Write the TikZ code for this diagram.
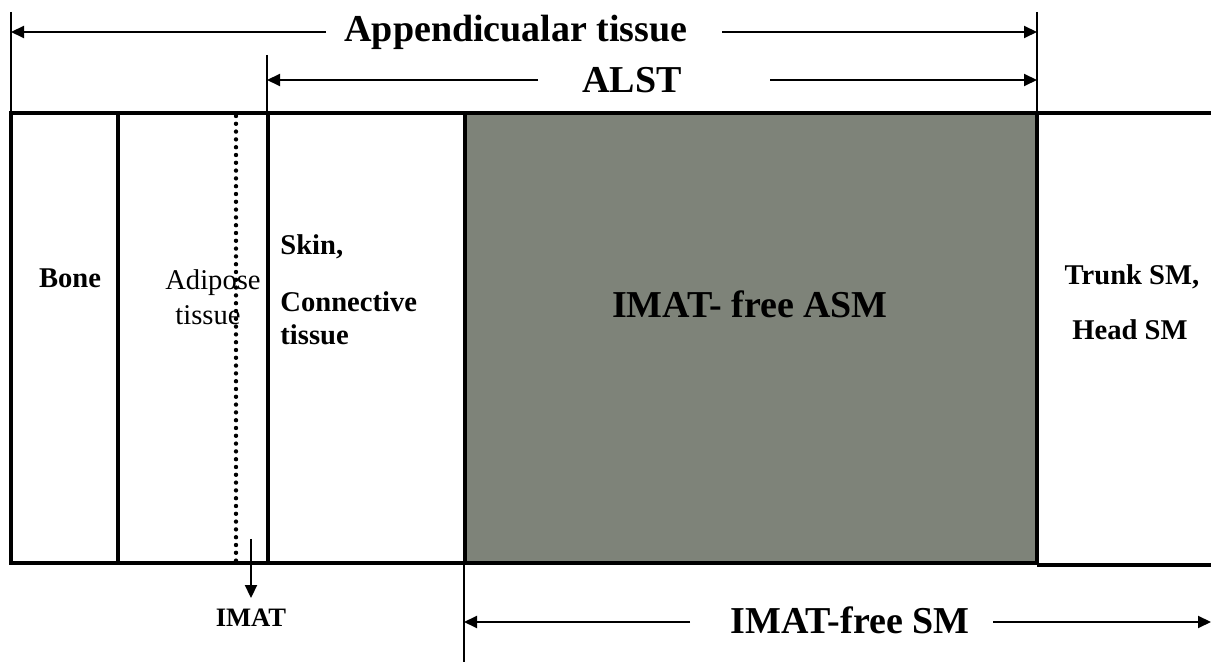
\documentclass[tikz,border=0pt]{standalone}
\usepackage{fontspec}
\setmainfont{Liberation Serif}
\usetikzlibrary{arrows.meta}
\definecolor{asmgrey}{RGB}{126,131,121}

\begin{document}
\begin{tikzpicture}[x=0.5pt, y=-0.5pt,
    wall/.style={line width=2.2pt},
    dim/.style={line width=1pt},
    tip/.style={dim, -{Triangle[length=6.5pt, width=6pt]}},
    big/.style={font=\bfseries\fontsize{19}{22}\selectfont, inner sep=0pt, anchor=base},
    part/.style={font=\bfseries\fontsize{14.3}{17}\selectfont, inner sep=0pt, anchor=base},
    plain/.style={font=\fontsize{14.3}{17}\selectfont, inner sep=0pt, anchor=base}]
    \useasboundingbox (0,0) rectangle (1211,662);

    % IMAT-free appendicular muscle block
    \fill[asmgrey] (465,113) rectangle (1037,563);

    % compartments
    \draw[wall] (1211,113) -- (11,113) -- (11,563) -- (1037,563);
    \draw[wall] (1037,565) -- (1211,565);
    \draw[wall] (118,113) -- (118,563);
    \draw[wall] (268,113) -- (268,563);
    \draw[wall] (465,113) -- (465,563);
    \draw[wall] (1037,113) -- (1037,565);
    \draw[line width=2.2pt, line cap=round, dash pattern=on 0pt off 3.9pt] (236,116) -- (236,562);

    % ticks
    \draw[dim] (11,12) -- (11,113);
    \draw[dim] (1037,12) -- (1037,113);
    \draw[dim] (267,55) -- (267,113);
    \draw[dim] (464,563) -- (464,662);

    % labels
    \node[big] (app) at (516,42) {Appendicualar tissue};
    \node[big] (alst) at (632,93) {ALST};
    \node[big] (asm) at (750,318) {IMAT- free ASM};
    \node[big] (freesm) at (850,633) {IMAT-free SM};
    \node[part] (bone) at (70,288) {Bone};
    \node[plain] (fat) at (213,290) {Adipose};
    \node[plain] (fatb) at (208,325) {tissue};
    \node[part, anchor=base west] (skin) at (280,255) {Skin,};
    \node[part, anchor=base west] (conn) at (280,312) {Connective};
    \node[part, anchor=base west] (connb) at (280,345) {tissue};
    \node[part] (trunk) at (1132,285) {Trunk SM,};
    \node[part] (head) at (1130,340) {Head SM};
    \node[part, font=\bfseries\fontsize{13.3}{16}\selectfont] (imat) at (251,626) {IMAT};

    % arrow ends
    \coordinate (appL) at (11,32);
    \coordinate (appLe) at (326,32);
    \coordinate (appRe) at (722,32);
    \coordinate (appR) at (1037,32);
    \coordinate (alstL) at (267,80);
    \coordinate (alstLe) at (538,80);
    \coordinate (alstRe) at (770,80);
    \coordinate (alstR) at (1037,80);
    \coordinate (smL) at (464,622);
    \coordinate (smLe) at (690,622);
    \coordinate (smRe) at (993,622);
    \coordinate (smR) at (1211,622);
    \coordinate (imatTop) at (251,539);

    \draw[tip] (appLe) -- (appL);
    \draw[tip] (appRe) -- (appR);
    \draw[tip] (alstLe) -- (alstL);
    \draw[tip] (alstRe) -- (alstR);
    \draw[tip] (smLe) -- (smL);
    \draw[tip] (smRe) -- (smR);
    \draw[tip, shorten >=5pt] (imatTop) -- (imat.north);
\end{tikzpicture}
\end{document}
